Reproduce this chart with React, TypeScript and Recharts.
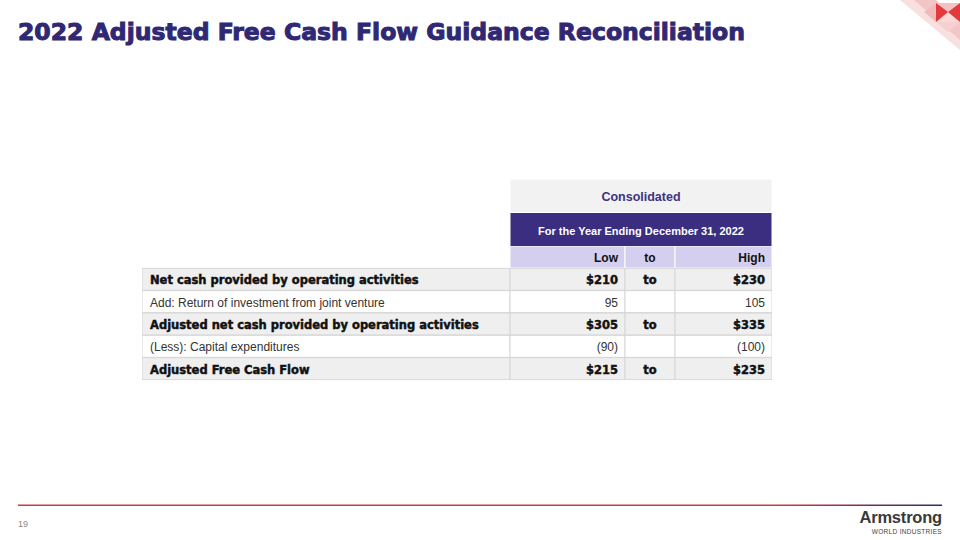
import { Bar, BarChart, Cell, LabelList, XAxis, YAxis } from "recharts"

const ROW_LABELS = [
  "Net cash provided by operating activities",
  "Add: Return of investment from joint venture",
  "Adjusted net cash provided by operating activities",
  "(Less): Capital expenditures",
  "Adjusted Free Cash Flow",
]
const LOW_VALUES = ["$210", "95", "$305", "(90)", "$215"]
const TO_MARKS = ["to", "", "to", "", "to"]
const HIGH_VALUES = ["$230", "105", "$335", "(100)", "$235"]
const BOLD_ROWS = [true, false, true, false, true]
const HEADER_TITLES = ["Consolidated", "For the Year Ending December 31, 2022"]
const COLUMN_HEADERS = ["Low", "to", "High"]

const TITLE = "2022 Adjusted Free Cash Flow Guidance Reconciliation"
const PAGE_NO = "19"

// column widths in px (chart x scale is 1 unit = 1 px)
const COL_W = [368, 115, 50, 97]
const TABLE_W = COL_W.reduce((a, b) => a + b, 0)
const HEAD_W = TABLE_W - COL_W[0]

const NAVY = "#2f2874"
const PURPLE = "#3b2e80"
const LAVENDER = "#d4cfee"
const GRAY = "#efefef"
const BORDER = "#d6d6d6"
const ARIAL = "'Liberation Sans', Arial, sans-serif"
const HEAVY = "'DejaVu Sans', 'Liberation Sans', sans-serif"

type Row = {
  key: string
  kind: "head" | "bold" | "plain"
  label: string
  low: string
  to: string
  high: string
  w0: number
  w1: number
  w2: number
  w3: number
}

const tableData: Row[] = [
  {
    key: "head",
    kind: "head",
    label: "",
    low: COLUMN_HEADERS[0],
    to: COLUMN_HEADERS[1],
    high: COLUMN_HEADERS[2],
    w0: COL_W[0],
    w1: COL_W[1],
    w2: COL_W[2],
    w3: COL_W[3],
  },
  ...ROW_LABELS.map((label, i) => ({
    key: "r" + i,
    kind: (BOLD_ROWS[i] ? "bold" : "plain") as Row["kind"],
    label,
    low: LOW_VALUES[i],
    to: TO_MARKS[i],
    high: HIGH_VALUES[i],
    w0: COL_W[0],
    w1: COL_W[1],
    w2: COL_W[2],
    w3: COL_W[3],
  })),
]

const headerData = HEADER_TITLES.map((text, i) => ({ key: "h" + i, text, w: HEAD_W }))

function cellFill(kind: Row["kind"], col: number) {
  if (kind === "head") return col === 0 ? "none" : LAVENDER
  return kind === "bold" ? GRAY : "#ffffff"
}

function cellContent(align: "left" | "center" | "right") {
  return (props: any) => {
    const vb = props.viewBox ?? props
    const { x, y, width, height } = vb
    const row = tableData[props.index]
    if (!row || props.value === "" || props.value == null) return null
    const kind = row.kind
    const tx = align === "left" ? x + 8 : align === "right" ? x + width - 7 : x + width / 2
    const anchor = align === "left" ? "start" : align === "right" ? "end" : "middle"
    const bold = kind === "bold"
    return (
      <text
        x={tx}
        y={y + height / 2 + 1}
        textAnchor={anchor}
        dominantBaseline="central"
        fontFamily={bold ? HEAVY : ARIAL}
        fontSize={bold ? 11.5 : 12}
        fontWeight={bold || kind === "head" ? 700 : 400}
        fill={kind === "plain" ? "#333" : "#111"}
        stroke={bold ? "#111" : "none"}
        strokeWidth={bold ? 0.45 : 0}
      >
        {props.value}
      </text>
    )
  }
}

function headerContent(props: any) {
  const vb = props.viewBox ?? props
  const { x, y, width, height } = vb
  const first = props.index === 0
  return (
    <text
      x={x + width / 2}
      y={y + height / 2 + 1}
      textAnchor="middle"
      dominantBaseline="central"
      fontFamily={ARIAL}
      fontSize={first ? 12.5 : 11}
      fontWeight={700}
      fill={first ? "#3d3383" : "#ffffff"}
    >
      {props.value}
    </text>
  )
}

const colKeys = ["w0", "w1", "w2", "w3"] as const
const textKeys = ["label", "low", "to", "high"] as const
const aligns = ["left", "right", "center", "right"] as const

export default function App() {
  return (
    <div
      style={{
        position: "absolute",
        left: 0,
        top: 0,
        width: 960,
        height: 540,
        background: "#fff",
        overflow: "hidden",
        fontFamily: ARIAL,
      }}
    >
      {/* title */}
      <svg width={960} height={60} style={{ position: "absolute", left: 0, top: 0 }}>
        <text
          x={18}
          y={40}
          fontFamily={HEAVY}
          fontWeight={700}
          fontSize={23.5}
          fill={NAVY}
          stroke={NAVY}
          strokeWidth={1}
          textLength={727}
          lengthAdjust="spacingAndGlyphs"
        >
          {TITLE}
        </text>
        {/* corner mark */}
        <g>
          <polygon points="900,0 928,0 960,32 960,50" fill="#f8e0e0" />
          <polygon points="914,0 936,0 960,22 960,40" fill="#f2c6c6" />
          <polygon points="924,12 936,3 936,22" fill="#f0baba" />
          <polygon points="936,3 960,3 948,12" fill="#f4c2c2" />
          <polygon points="936,22 960,22 948,12" fill="#f9d8d8" />
          <polygon points="936,3 948,12 936,22" fill="#e3383c" />
          <polygon points="960,3 948,12 960,22" fill="#e3383c" />
          <polygon points="936,22 948,32 960,22" fill="#f6d0d0" />
        </g>
      </svg>

      {/* header rows */}
      <div style={{ position: "absolute", left: 510, top: 179 }}>
        <BarChart
          width={HEAD_W}
          height={67}
          data={headerData}
          layout="vertical"
          margin={{ top: 0, right: 0, bottom: 0, left: 0 }}
          barCategoryGap={0}
        >
          <XAxis type="number" domain={[0, HEAD_W]} hide />
          <YAxis type="category" dataKey="key" hide />
          <Bar dataKey="w" stroke="#ffffff" strokeWidth={1} isAnimationActive={false}>
            {headerData.map((d, i) => (
              <Cell key={d.key} fill={i === 0 ? "#f2f2f2" : PURPLE} />
            ))}
            <LabelList dataKey="text" content={headerContent} />
          </Bar>
        </BarChart>
      </div>

      {/* body rows */}
      <div style={{ position: "absolute", left: 142, top: 246 }}>
        <BarChart
          width={TABLE_W}
          height={134}
          data={tableData}
          layout="vertical"
          margin={{ top: 0, right: 0, bottom: 0, left: 0 }}
          barCategoryGap={0}
        >
          <XAxis type="number" domain={[0, TABLE_W]} hide />
          <YAxis type="category" dataKey="key" hide />
          {colKeys.map((k, c) => (
            <Bar key={k} dataKey={k} stackId="row" isAnimationActive={false}>
              {tableData.map((d) => (
                <Cell
                  key={d.key}
                  fill={cellFill(d.kind, c)}
                  stroke={d.kind === "head" ? (c === 0 ? "none" : "#ffffff") : BORDER}
                  strokeWidth={1}
                />
              ))}
              <LabelList dataKey={textKeys[c]} content={cellContent(aligns[c])} />
            </Bar>
          ))}
        </BarChart>
      </div>

      {/* footer */}
      <svg width={960} height={40} style={{ position: "absolute", left: 0, top: 500 }}>
        <defs>
          <linearGradient id="rule" x1="0" x2="1" y1="0" y2="0">
            <stop offset="0%" stopColor="#d0393c" />
            <stop offset="82%" stopColor="#d0393c" />
            <stop offset="100%" stopColor="#2f2874" />
          </linearGradient>
        </defs>
        <rect x={18} y={4.5} width={924} height={1.5} fill="url(#rule)" />
        <text x={18} y={27} fontFamily={ARIAL} fontSize={9} fill="#888">
          {PAGE_NO}
        </text>
      </svg>
      <div style={{ position: "absolute", left: 846, top: 508, width: 96, textAlign: "right" }}>
        <div style={{ fontFamily: ARIAL, fontWeight: 700, fontSize: 16.5, color: "#3a3a3a", letterSpacing: -0.2, lineHeight: "18px" }}>
          Armstrong
        </div>
        <div style={{ fontFamily: ARIAL, fontSize: 6.5, color: "#444", letterSpacing: 0.3, marginTop: 2 }}>
          WORLD INDUSTRIES
        </div>
      </div>
    </div>
  )
}
